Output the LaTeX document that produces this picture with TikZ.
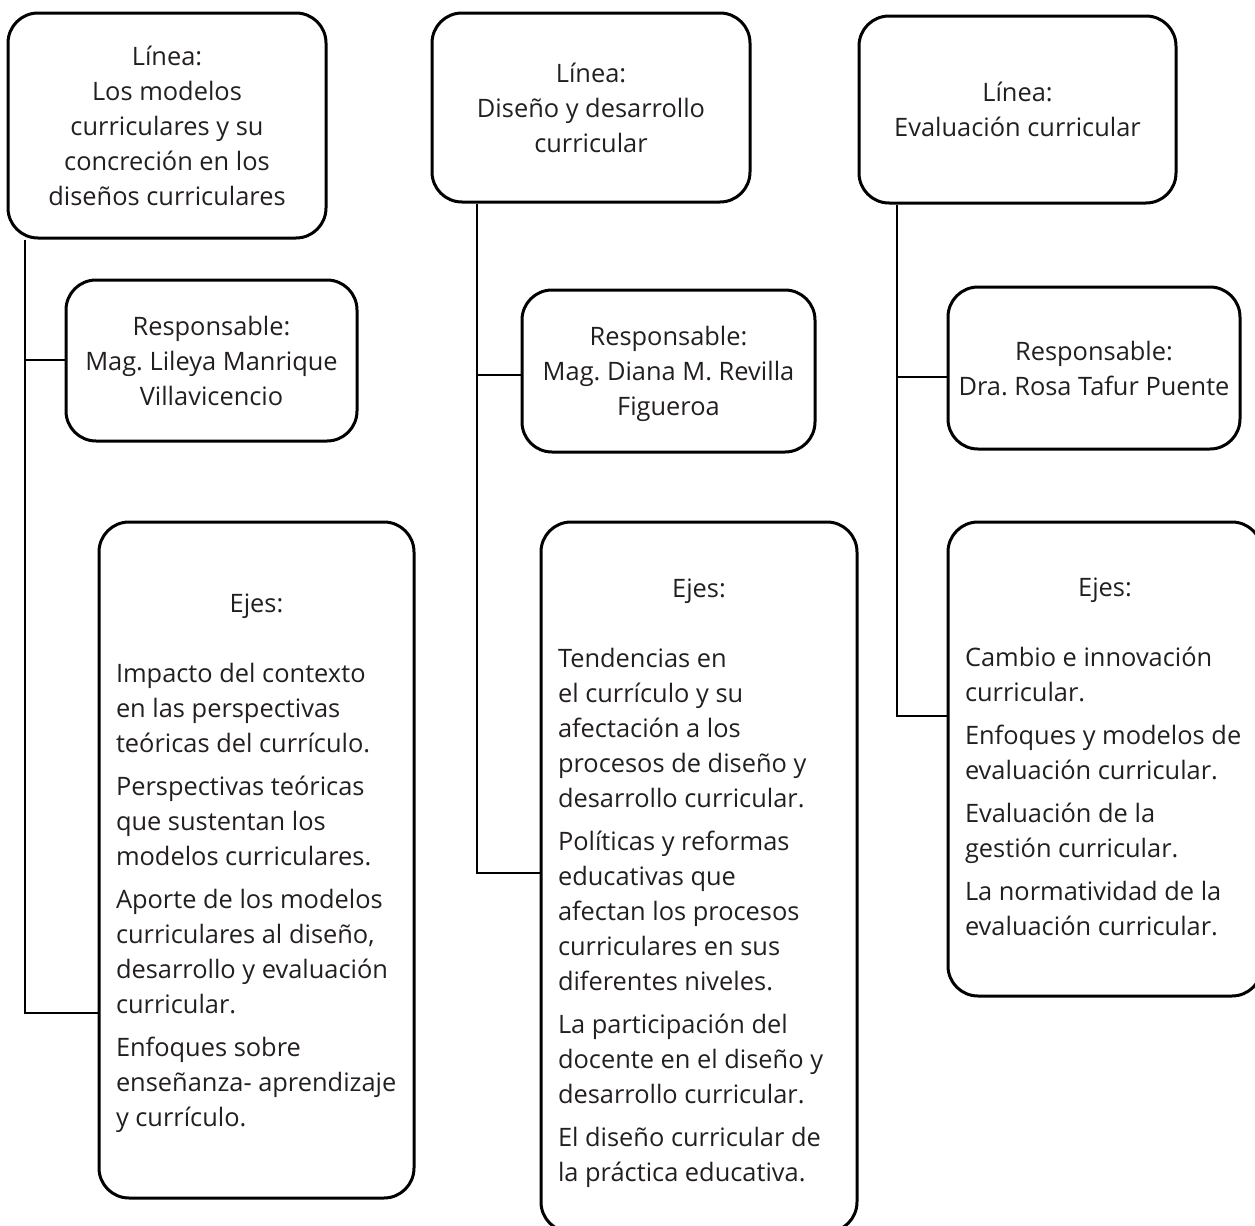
\documentclass[tikz,border=0pt]{standalone}
\usepackage{fontspec}
\setmainfont{Open Sans}
\usepackage{xcolor}
\definecolor{txt}{HTML}{231F20}
\frenchspacing

\begin{document}
\begin{tikzpicture}[x=0.5pt,y=-0.5pt,
  every node/.style={align=center,text=txt,font=\fontsize{12.7}{17.5}\selectfont},
  box/.style={draw=black,line width=1.5pt,rounded corners=15pt,inner sep=0pt},
  head/.style={box,text depth=-2.5pt},
  link/.style={draw=black,line width=1.2pt}]
\useasboundingbox (0,0) rectangle (1255,1226);
\node[head,minimum width=159pt,minimum height=112.5pt] (L1) at (167,125.5) {Línea:\\Los modelos\\curriculares y su\\concreción en los\\diseños curriculares};
\node[head,minimum width=159pt,minimum height=94.5pt] (L2) at (591,107.5) {Línea:\\Diseño y desarrollo\\curricular};
\node[head,minimum width=158.5pt,minimum height=93.5pt] (L3) at (1017.5,109.5) {Línea:\\Evaluación curricular};
\node[head,minimum width=145.5pt,minimum height=80.5pt] (R1) at (211.5,360.5) {Responsable:\\Mag. Lileya Manrique\\Villavicencio};
\node[head,minimum width=146.5pt,minimum height=81pt] (R2) at (668.5,371) {Responsable:\\Mag. Diana M. Revilla\\Figueroa};
\node[head,minimum width=146pt,minimum height=81pt] (R3) at (1094,368) {Responsable:\\Dra. Rosa Tafur Puente};
\node[box,minimum width=157.5pt,minimum height=338pt,text width=140.5pt,align=none] (E1) at (256.5,860) {\centering Ejes:\par\vspace{17.5pt}\raggedright
Impacto del contexto\\en las perspectivas\\teóricas del currículo.\par\vspace{4pt}
Perspectivas teóricas\\que sustentan los\\modelos curriculares.\par\vspace{4pt}
Aporte de los modelos\\curriculares al diseño,\\desarrollo y evaluación\\curricular.\par\vspace{4pt}
Enfoques sobre\\enseñanza- aprendizaje\\y currículo.\par\vspace*{-3pt}};
\node[box,minimum width=158pt,minimum height=355pt,text width=141pt,align=none] (E2) at (699,877) {\centering Ejes:\par\vspace{17.5pt}\raggedright
Tendencias en\\el currículo y su\\afectación a los\\procesos de diseño y\\desarrollo curricular.\par\vspace{4pt}
Políticas y reformas\\educativas que\\afectan los procesos\\curriculares en sus\\diferentes niveles.\par\vspace{4pt}
La participación del\\docente en el diseño y\\desarrollo curricular.\par\vspace{4pt}
El diseño curricular de\\la práctica educativa.\par\vspace*{-6pt}};
\node[box,minimum width=157pt,minimum height=237pt,text width=140pt,align=none] (E3) at (1105,759) {\centering Ejes:\par\vspace{17.5pt}\raggedright
Cambio e innovación\\curricular.\par\vspace{4pt}
Enfoques y modelos de\\evaluación curricular.\par\vspace{4pt}
Evaluación de la\\gestión curricular.\par\vspace{4pt}
La normatividad de la\\evaluación curricular.\par\vspace*{2pt}};
\coordinate (a1) at (25,360);\coordinate (b1) at (25,1013);
\coordinate (a2) at (477,375);\coordinate (b2) at (477,873);
\coordinate (a3) at (897,377);\coordinate (b3) at (897,716);
\draw[link] (L1.south -| b1) |- (E1.west |- b1);\draw[link] (a1) -- (R1.west |- a1);
\draw[link] (L2.south -| b2) |- (E2.west |- b2);\draw[link] (a2) -- (R2.west |- a2);
\draw[link] (L3.south -| b3) |- (E3.west |- b3);\draw[link] (a3) -- (R3.west |- a3);
\end{tikzpicture}
\end{document}
